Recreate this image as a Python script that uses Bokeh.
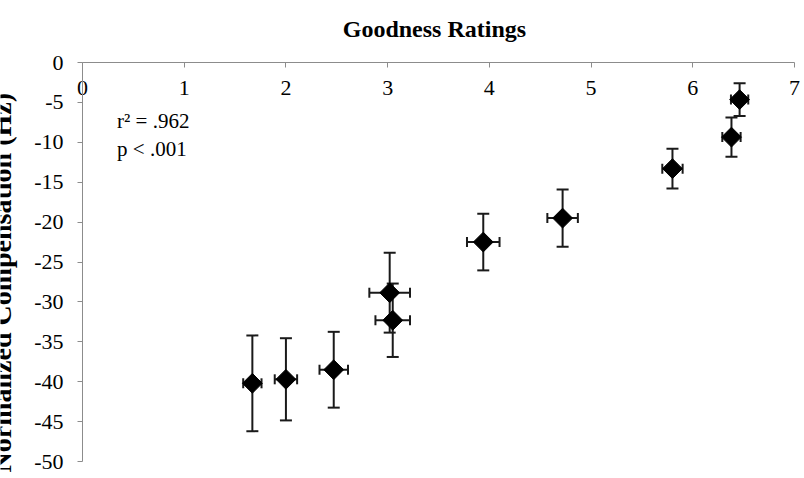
import math

from bokeh.embed import file_html
from bokeh.models import (ColumnDataSource, FixedTicker, Label, PrintfTickFormatter,
                          Range1d, TeeHead, Whisker)
from bokeh.plotting import figure
from bokeh.resources import INLINE

# Mean goodness rating per stimulus, with its error bar half-width
goodness = [1.67, 2.00, 2.47, 3.02, 3.05, 3.94, 4.72, 5.80, 6.38, 6.46]
goodness_err = [0.09, 0.11, 0.14, 0.20, 0.17, 0.16, 0.15, 0.10, 0.09, 0.085]

# Normalized compensation (Hz) per stimulus, with its error bar half-width
compensation = [-40.2, -39.7, -38.5, -28.85, -32.3, -22.5, -19.5, -13.3, -9.35, -4.65]
compensation_err = [6.0, 5.15, 4.75, 5.0, 4.6, 3.55, 3.6, 2.5, 2.45, 2.05]

x_ticks = [0, 1, 2, 3, 4, 5, 6, 7]
y_ticks = [0, -5, -10, -15, -20, -25, -30, -35, -40, -45, -50]

FONT = "Liberation Serif"
AXIS_GREY = "#8c8c8c"
BAR_COLOR = "#1a1a1a"

src = ColumnDataSource(dict(
    x=goodness,
    y=compensation,
    x_lo=[v - e for v, e in zip(goodness, goodness_err)],
    x_hi=[v + e for v, e in zip(goodness, goodness_err)],
    y_lo=[v - e for v, e in zip(compensation, compensation_err)],
    y_hi=[v + e for v, e in zip(compensation, compensation_err)],
))

# The frame covers the whole canvas; both axes are pinned to the zero lines
# so that the tick labels and titles live inside the frame area.
p = figure(
    width=804, height=478,
    x_range=Range1d(-0.806, 7.098), y_range=Range1d(-52.13, 7.77),
    min_border=0,
    output_backend="svg", toolbar_location=None,
)
p.outline_line_color = None
p.grid.visible = False
p.background_fill_color = "white"
p.border_fill_color = "white"

xa = p.xaxis[0]
xa.fixed_location = 0
xa.bounds = (0, 7)
xa.ticker = FixedTicker(ticks=x_ticks)
xa.formatter = PrintfTickFormatter(format="%d")
xa.major_tick_in = 0
xa.major_tick_out = 5
xa.minor_tick_line_color = None
xa.axis_line_color = AXIS_GREY
xa.major_tick_line_color = AXIS_GREY
xa.major_label_text_font = FONT
xa.major_label_text_font_size = "22px"
xa.major_label_text_color = "black"
xa.major_label_standoff = 13

ya = p.yaxis[0]
ya.fixed_location = 0
ya.bounds = (-50, 0)
ya.ticker = FixedTicker(ticks=y_ticks)
ya.formatter = PrintfTickFormatter(format="%d")
ya.major_tick_in = 0
ya.major_tick_out = 5
ya.minor_tick_line_color = None
ya.axis_line_color = AXIS_GREY
ya.major_tick_line_color = AXIS_GREY
ya.major_label_text_font = FONT
ya.major_label_text_font_size = "22px"
ya.major_label_text_color = "black"
ya.major_label_standoff = 14

# Error bars in both directions
p.add_layout(Whisker(
    source=src, base="x", lower="y_lo", upper="y_hi", dimension="height",
    line_color=BAR_COLOR, line_width=2,
    lower_head=TeeHead(size=12, line_width=2, line_color=BAR_COLOR),
    upper_head=TeeHead(size=12, line_width=2, line_color=BAR_COLOR),
))
p.add_layout(Whisker(
    source=src, base="y", lower="x_lo", upper="x_hi", dimension="width",
    line_color=BAR_COLOR, line_width=2,
    lower_head=TeeHead(size=10, line_width=2, line_color=BAR_COLOR),
    upper_head=TeeHead(size=10, line_width=2, line_color=BAR_COLOR),
))

# Diamond markers
p.scatter("x", "y", source=src, marker="square", angle=math.pi / 4,
          size=14, fill_color="black", line_color="black")

# Fit statistics
for txt, yv in [("r² = .962", -7.3), ("p < .001", -10.8)]:
    p.add_layout(Label(x=0.34, y=yv, text=txt, text_font=FONT,
                       text_font_size="21px", text_baseline="middle",
                       text_color="black"))

# Chart title
p.add_layout(Label(x=3.46, y=4.26, text="Goodness Ratings",
                   text_align="center", text_baseline="middle",
                   text_font=FONT, text_font_size="24px",
                   text_font_style="bold", text_color="black"))

# Vertical axis title, running off the left edge
p.add_layout(Label(x=-0.80, y=-27.6, text="Normalized Compensation (Hz)",
                   angle=math.pi / 2, text_align="center",
                   text_baseline="alphabetic", text_font=FONT,
                   text_font_size="28px", text_font_style="bold",
                   text_color="black"))

open("out.html", "w").write(file_html(p, INLINE))
